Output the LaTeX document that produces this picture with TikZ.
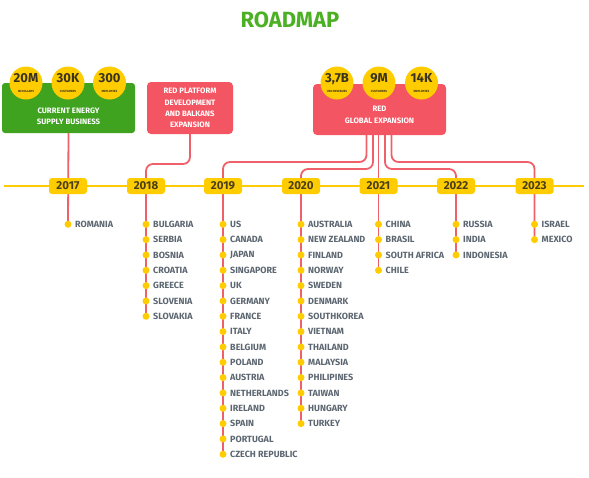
\documentclass[tikz,border=0pt]{standalone}
\usepackage{fontspec}
\setmainfont{Fira Sans}
\usetikzlibrary{backgrounds,calc}
\definecolor{rmgreen}{HTML}{3FA31F}
\definecolor{rmtitle}{HTML}{4CB024}
\definecolor{rmred}{HTML}{F45562}
\definecolor{rmline}{HTML}{F0606A}
\definecolor{rmyellow}{HTML}{FFCC00}
\definecolor{rmyeartext}{HTML}{4A3F1A}
\definecolor{rmtext}{HTML}{5C6670}
\definecolor{rmdark}{HTML}{3A3320}
\tikzset{
  gbox/.style={fill=rmgreen, rounded corners=3pt, inner sep=0pt},
  rbox/.style={fill=rmred, rounded corners=4pt, inner sep=0pt},
  boxtext/.style={text=white, font=\fontsize{7.8}{11.3}\selectfont\bfseries, align=center, inner sep=0pt},
  stat/.style={circle, fill=rmyellow, minimum size=33pt, inner sep=0pt, align=center, text=rmdark},
  yearbox/.style={fill=rmyellow, rounded corners=3pt, minimum width=38pt, minimum height=16pt, inner sep=0pt, text=rmyeartext, font=\fontsize{11.5}{11.5}\selectfont\bfseries},
  dot/.style={circle, fill=rmyellow, minimum size=7pt, inner sep=0pt},
  country/.style={anchor=west, text=rmtext, font=\fontsize{9}{9}\selectfont\bfseries, inner sep=0pt},
  conn/.style={draw=rmline, line width=1.8pt, rounded corners=7pt},
  timeline/.style={draw=rmyellow, line width=1.6pt}
}
\newcommand{\statnum}[2]{{\fontsize{13}{12}\selectfont\bfseries #1}\\[-2.5pt]{\fontsize{3}{3}\selectfont\bfseries #2}}
\begin{document}
\begin{tikzpicture}[x=1pt,y=-1pt]
\useasboundingbox (0,0) rectangle (589,477);

% title
\node[text=rmtitle, font=\fontsize{22}{22}\selectfont\bfseries] (title) at (290,20) {ROADMAP};

% boxes
\node[gbox, minimum width=133pt, minimum height=50pt] (g) at (68.5,108) {};
\node[boxtext] (gt) at (68.5,116) {CURRENT ENERGY\\SUPPLY BUSINESS};
\node[stat] (s1) at (26,83) {\statnum{20M}{IN DOLLARS}};
\node[stat] (s2) at (68,83) {\statnum{30K}{CUSTOMERS}};
\node[stat] (s3) at (109.5,83) {\statnum{300}{EMPLOYEES}};

\node[rbox, minimum width=86pt, minimum height=52pt, boxtext] (p) at (190,108) {RED PLATFORM\\DEVELOPMENT\\AND BALKANS\\EXPANSION};

\node[rbox, minimum width=133pt, minimum height=51pt] (r) at (379.5,109.5) {};
\node[boxtext] (rt) at (379.5,115) {RED\\GLOBAL EXPANSION};
\node[stat] (s4) at (337,83) {\statnum{3,7B}{USD REVENUES}};
\node[stat] (s5) at (379,83) {\statnum{9M}{CUSTOMERS}};
\node[stat] (s6) at (421.5,83) {\statnum{14K}{EMPLOYEES}};

% timeline
\coordinate (tl) at (4,186);
\coordinate (tr) at (584,186);

% years and countries
\foreach \yr/\xx/\lst in {
  2017/68/{ROMANIA},
  2018/146/{BULGARIA,SERBIA,BOSNIA,CROATIA,GREECE,SLOVENIA,SLOVAKIA},
  2019/223/{US,CANADA,JAPAN,SINGAPORE,UK,GERMANY,FRANCE,ITALY,BELGIUM,POLAND,AUSTRIA,NETHERLANDS,IRELAND,SPAIN,PORTUGAL,CZECH REPUBLIC},
  2020/301/{AUSTRALIA,NEW ZEALAND,FINLAND,NORWAY,SWEDEN,DENMARK,SOUTHKOREA,VIETNAM,THAILAND,MALAYSIA,PHILIPINES,TAIWAN,HUNGARY,TURKEY},
  2021/378.5/{CHINA,BRASIL,SOUTH AFRICA,CHILE},
  2022/456/{RUSSIA,INDIA,INDONESIA},
  2023/534.5/{ISRAEL,MEXICO}} {
  \node[yearbox] (y\yr) at (\xx,186) {\yr};
  \foreach \c [count=\i] in \lst {
    \node[dot] (d\yr-\i) at (\xx,{224.3+15.33*(\i-1)}) {};
    \node[country] (c\yr-\i) at ({\xx+7},{224.3+15.33*(\i-1)}) {\c};
    \coordinate (l\yr) at (d\yr-\i.center);
  }
}

% connector bends
\coordinate (h18) at (146,164);
\coordinate (h19) at (223,162);
\coordinate (h20) at (301,169);
\coordinate (h22) at (456,169);
\coordinate (h23) at (534.5,162);
\coordinate (r1) at ($(r.south)+(-13,0)$);
\coordinate (r2) at ($(r.south)+(-6.5,0)$);
\coordinate (r3) at ($(r.south)+(-1,0)$);
\coordinate (r4) at ($(r.south)+(5.5,0)$);
\coordinate (r5) at ($(r.south)+(12,0)$);

\begin{scope}[on background layer]
  \draw[timeline] (tl) -- (tr);
  \draw[conn] (g.south) -- (l2017);
  \draw[conn] (p.south) |- (h18) -- (l2018);
  \draw[conn] (r1) |- (h19) -- (l2019);
  \draw[conn] (r2) |- (h20) -- (l2020);
  \draw[conn] (r3) -- (r3 |- l2021);
  \draw[conn] (r4) |- (h22) -- (l2022);
  \draw[conn] (r5) |- (h23) -- (l2023);
\end{scope}
\end{tikzpicture}
\end{document}
